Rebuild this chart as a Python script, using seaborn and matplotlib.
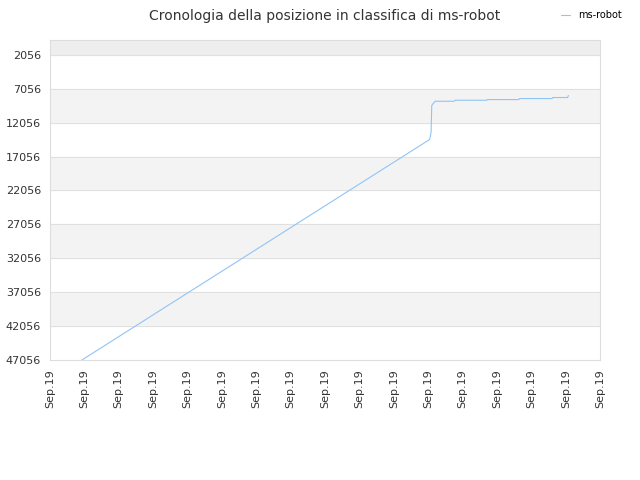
import matplotlib
matplotlib.use("Agg")
import matplotlib.pyplot as plt
import seaborn as sns
import pandas as pd

sns.set_style("white")
plt.rcParams['font.family'] = ['DejaVu Sans']

tick_labels = ["Sep.19"] * 17
yticks = [2056, 7056, 12056, 17056, 22056, 27056, 32056, 37056, 42056, 47056]

# position over time (x in tick units)
pos_x = [0.93, 11.02, 11.05, 11.08, 11.1, 11.2, 11.75, 11.78, 12.7, 12.72, 13.63, 13.65, 14.6, 14.62, 15.05, 15.07]
pos_y = [47056, 14600, 14300, 13500, 9500, 8900, 8900, 8750, 8750, 8650, 8650, 8500, 8500, 8350, 8350, 8050]
df = pd.DataFrame({"x": pos_x, "y": pos_y})

fig, ax = plt.subplots(figsize=(6.4, 4.8), dpi=100)
fig.subplots_adjust(left=0.078, right=0.938, top=0.917, bottom=0.25)

ylim_top = -156
ax.set_ylim(47056, ylim_top)
ax.set_xlim(0, 16)
ax.axhspan(ylim_top, 2056, color="#eeeeee", zorder=0)
for i in range(1, len(yticks) - 1, 2):
    ax.axhspan(yticks[i], yticks[i + 1], color="#f3f3f3", zorder=0)
for t in yticks:
    ax.axhline(t, color="#e0e0e0", lw=0.7, zorder=0.5)

sns.lineplot(data=df, x="x", y="y", ax=ax, color="#90c4f5", lw=0.8, label="ms-robot", estimator=None, sort=False)

ax.set_yticks(yticks)
ax.set_yticklabels([str(t) for t in yticks], fontsize=8, color="#333333")
ax.set_xticks(range(17))
ax.set_xticklabels(tick_labels, rotation=90, fontsize=8, color="#333333")
ax.set_xlabel("")
ax.set_ylabel("")
for s in ax.spines.values():
    s.set_color("#dddddd")
ax.tick_params(length=3, color="#cccccc")

ax.set_title("Cronologia della posizione in classifica di ms-robot", fontsize=10, color="#333333", pad=14)
leg = ax.legend(loc="upper right", bbox_to_anchor=(1.055, 1.12), frameon=False, fontsize=7, handlelength=1)
for t in leg.get_texts():
    t.set_color("#000000")

fig.savefig("out.png")
